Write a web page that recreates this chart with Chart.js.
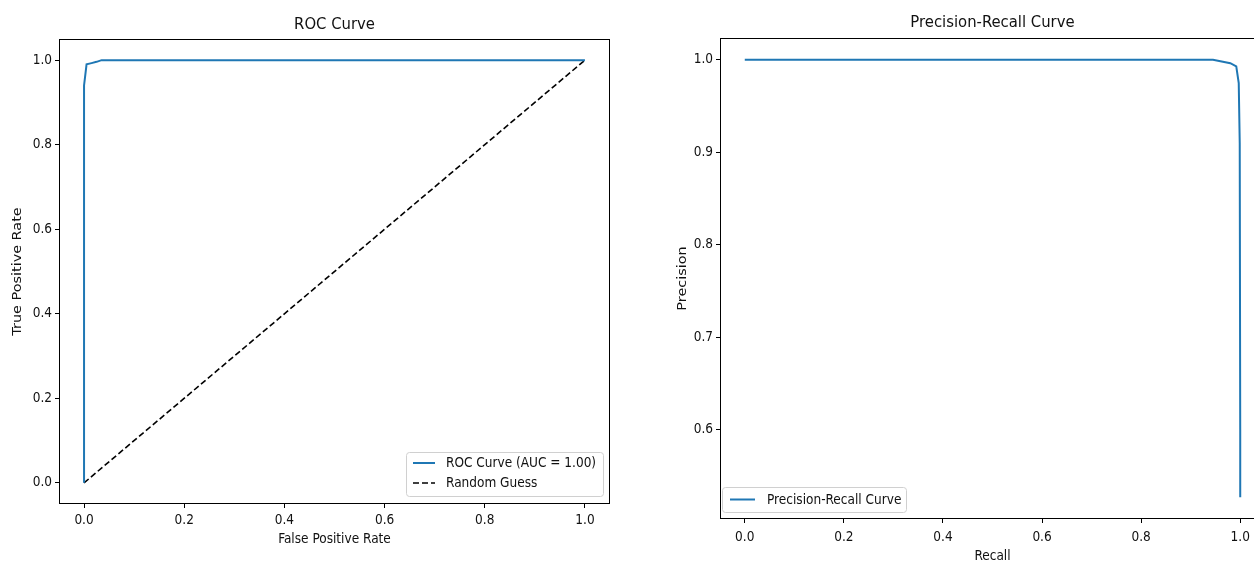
<!DOCTYPE html>
<html><head><meta charset="utf-8">
<script src="https://cdn.jsdelivr.net/npm/chart.js@4.4.0/dist/chart.umd.min.js"></script>
<style>
html,body{margin:0;padding:0;background:#fff;overflow:hidden;width:1254px;height:563px;position:relative;}
#c1{position:absolute;left:0;top:0;width:627px;height:563px;}
#c2{position:absolute;left:630px;top:0;width:650px;height:563px;}
</style></head><body>
<canvas id="c1" width="627" height="563"></canvas>
<canvas id="c2" width="650" height="563"></canvas>
<script>
// ---- data ----
const rocFpr = [0, 0, 0.002, 0.005, 0.015, 0.025, 0.035, 1.0];
const rocTpr = [0, 0.94, 0.96, 0.99, 0.993, 0.996, 1.0, 1.0];
const randomFpr = [0, 1];
const randomTpr = [0, 1];
const prRecall = [0, 0.93, 0.945, 0.98, 0.992, 0.997, 0.999, 1.0, 1.0];
const prPrecision = [1.0, 1.0, 1.0, 0.9964, 0.993, 0.975, 0.91, 0.6, 0.527];
const rocTicksX = [0, 0.2, 0.4, 0.6, 0.8, 1.0];
const rocTicksY = [0, 0.2, 0.4, 0.6, 0.8, 1.0];
const prTicksX = [0, 0.2, 0.4, 0.6, 0.8, 1.0];
const prTicksY = [0.6, 0.7, 0.8, 0.9, 1.0];
const rocLabels = ['ROC Curve (AUC = 1.00)', 'Random Guess'];
const prLabels = ['Precision-Recall Curve'];
const rocTitle = 'ROC Curve';
const prTitle = 'Precision-Recall Curve';
const rocXTitle = 'False Positive Rate';
const rocYTitle = 'True Positive Rate';
const prXTitle = 'Recall';
const prYTitle = 'Precision';

const FONT = "'DejaVu Sans Condensed', 'DejaVu Sans', sans-serif";
const VFONT = "'DejaVu Sans', sans-serif";
const TXT = '#111';
const BLUE = '#1f77b4';
const pts = (xs, ys) => xs.map((x, i) => ({x: x, y: ys[i]}));

const framePlugin = {
  id: 'frame',
  afterDraw(chart, args, o) {
    const a = chart.chartArea, ctx = chart.ctx;
    ctx.save();
    ctx.strokeStyle = '#000';
    ctx.lineWidth = 1;
    const l = Math.round(a.left) + 0.5, t = Math.round(a.top) + 0.5;
    const r = Math.round(a.right) - 0.5, b = Math.round(a.bottom) - 0.5;
    ctx.strokeRect(l, t, r - l, b - t);
    ctx.fillStyle = TXT;
    ctx.textAlign = 'center';
    ctx.textBaseline = 'middle';
    // plot title centred over plot area
    ctx.font = o.size + 'px ' + FONT;
    ctx.fillText(o.text, (a.left + a.right) / 2, o.y);
    // y-axis title (vertically stretched like the reference)
    ctx.save();
    ctx.translate(o.yTitleX, (a.top + a.bottom) / 2);
    ctx.rotate(-Math.PI / 2);
    ctx.scale(1.2, 1);
    ctx.font = '12px ' + VFONT;
    ctx.fillText(o.yText, 0, 0);
    ctx.restore();
    ctx.restore();
  }
};

const legendPlugin = {
  id: 'boxLegend',
  afterDraw(chart, args, o) {
    const ctx = chart.ctx;
    ctx.save();
    ctx.globalAlpha = 0.85;
    ctx.fillStyle = '#fff';
    ctx.strokeStyle = '#d0d0d0';
    ctx.lineWidth = 1;
    ctx.beginPath();
    if (ctx.roundRect) ctx.roundRect(o.x + 0.5, o.y + 0.5, o.w, o.h, 3);
    else ctx.rect(o.x + 0.5, o.y + 0.5, o.w, o.h);
    ctx.fill();
    ctx.globalAlpha = 1;
    ctx.stroke();
    ctx.font = '13.5px ' + FONT;
    ctx.textBaseline = 'middle';
    ctx.textAlign = 'left';
    chart.data.datasets.forEach((ds, i) => {
      const cy = o.y + o.first + i * o.rowH;
      ctx.strokeStyle = ds.borderColor;
      ctx.lineWidth = ds.borderWidth;
      ctx.setLineDash(ds.borderDash || []);
      ctx.beginPath();
      ctx.moveTo(o.x + o.lineStart, cy);
      ctx.lineTo(o.x + o.lineStart + o.lineLen, cy);
      ctx.stroke();
      ctx.setLineDash([]);
      ctx.fillStyle = TXT;
      ctx.fillText(ds.label, o.x + o.textStart, cy + 0.5);
    });
    ctx.restore();
  }
};

function axis(min, max, ticks, title, fitSize, horizontal, titlePad, tickPad) {
  return {
    type: 'linear',
    min: min, max: max,
    afterBuildTicks: (s) => { s.ticks = ticks.map(v => ({value: v})); },
    afterFit: (s) => { if (horizontal) s.height = fitSize; else s.width = fitSize; },
    grid: {display: true, drawOnChartArea: false, drawTicks: true, tickLength: 4, color: '#000', lineWidth: 1},
    border: {display: false},
    ticks: {
      color: TXT, padding: tickPad, autoSkip: false, maxRotation: 0,
      font: {family: FONT, size: 13.5},
      callback: (v) => Number(v).toFixed(1)
    },
    title: {display: horizontal, text: title, color: TXT, font: {family: FONT, size: 13.5}, padding: titlePad}
  };
}

Chart.defaults.animation = false;

new Chart(document.getElementById('c1'), {
  type: 'scatter',
  data: {
    datasets: [
      {label: rocLabels[0], data: pts(rocFpr, rocTpr), showLine: true, borderColor: BLUE, borderWidth: 2, pointRadius: 0, fill: false, tension: 0},
      {label: rocLabels[1], data: pts(randomFpr, randomTpr), showLine: true, borderColor: '#000', borderWidth: 1.6, borderDash: [6, 3], pointRadius: 0, fill: false}
    ]
  },
  options: {
    responsive: false, animation: false, devicePixelRatio: 1,
    layout: {padding: {left: 0, right: 17, top: 39, bottom: 0}},
    scales: {
      x: axis(-0.05, 1.05, rocTicksX, rocXTitle, 59, true, {top: 0, bottom: 15}, 4),
      y: axis(-0.05, 1.05, rocTicksY, rocYTitle, 59, false, {top: 0, bottom: 0}, 3)
    },
    plugins: {
      legend: {display: false},
      tooltip: {enabled: false},
      title: {display: false},
      frame: {text: rocTitle, size: 16.5, y: 25, yText: rocYTitle, yTitleX: 18},
      boxLegend: {x: 406, y: 452, w: 197, h: 44, first: 11, rowH: 20, lineStart: 7, lineLen: 22, textStart: 40}
    }
  },
  plugins: [framePlugin, legendPlugin]
});

new Chart(document.getElementById('c2'), {
  type: 'scatter',
  data: {
    datasets: [
      {label: prLabels[0], data: pts(prRecall, prPrecision), showLine: true, borderColor: BLUE, borderWidth: 2, pointRadius: 0, fill: false, tension: 0}
    ]
  },
  options: {
    responsive: false, animation: false, devicePixelRatio: 1,
    layout: {padding: {left: 0, right: 15, top: 38, bottom: 0}},
    scales: {
      x: axis(-0.05, 1.05, prTicksX, prXTitle, 44, true, {top: 0, bottom: -2}, 6),
      y: axis(0.5034, 1.02365, prTicksY, prYTitle, 90, false, {top: 0, bottom: 0}, 3)
    },
    plugins: {
      legend: {display: false},
      tooltip: {enabled: false},
      title: {display: false},
      frame: {text: prTitle, size: 16.5, y: 23, yText: prYTitle, yTitleX: 53},
      boxLegend: {x: 92, y: 487, w: 184, h: 25, first: 12.5, rowH: 20, lineStart: 8, lineLen: 25, textStart: 45}
    }
  },
  plugins: [framePlugin, legendPlugin]
});
</script>
</body></html>
